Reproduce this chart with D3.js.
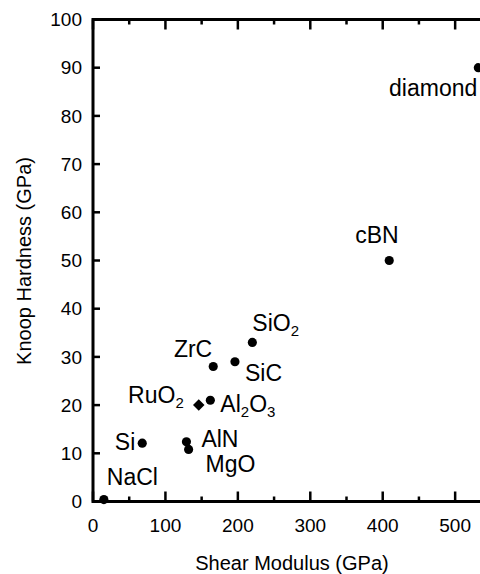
<!DOCTYPE html>
<html>
<head>
<meta charset="utf-8">
<script src="https://cdn.jsdelivr.net/npm/d3@7"></script>
<style>
  body { margin: 0; background: #fff; }
  svg { display: block; font-family: "Liberation Sans", Arial, sans-serif; }
</style>
</head>
<body>
<script>
// materials, shear modulus (GPa) and Knoop hardness (GPa)
const materials = ["NaCl", "Si", "RuO2", "Al2O3", "AlN", "MgO", "ZrC", "SiC", "SiO2", "cBN", "diamond"];
const shearModulus = [15, 68, 146, 162, 129, 132, 166, 196, 220, 409, 532];
const hardness = [0.4, 12.1, 20, 21, 12.4, 10.8, 28, 29, 33, 50, 90];
const markers = ["circle", "circle", "diamond", "circle", "circle", "circle", "circle", "circle", "circle", "circle", "circle"];

const xTicks = [0, 100, 200, 300, 400, 500];
const yTicks = [0, 10, 20, 30, 40, 50, 60, 70, 80, 90, 100];

// label placement, [dx, dy, anchor] from the point
const labelPlace = [
  [3, -15, "start"], [-7, 7, "end"], [-15, -2, "end"], [10, 12, "start"],
  [15, 5, "start"], [17, 23, "start"], [-1, -10, "end"], [10, 19, "start"],
  [0, -11, "start"], [-34, -18, "start"], [-1, 28, "end"]
];

const W = 480, H = 574;
const margin = {left: 93, top: 19.5};
const x = d3.scaleLinear().domain([0, 550]).range([margin.left, margin.left + 550 * 0.7243]);
const y = d3.scaleLinear().domain([0, 100]).range([501.5, margin.top]);

const svg = d3.select("body").append("svg").attr("width", W).attr("height", H);

// frame
const x0 = x(0), x1 = x(550), y0 = y(0), y1 = y(100);
svg.append("rect")
  .attr("x", x0).attr("y", y1).attr("width", x1 - x0).attr("height", y0 - y1)
  .attr("fill", "none").attr("stroke", "#000").attr("stroke-width", 3);

const minorX = d3.range(50, 551, 100);

// bottom + top ticks (inward)
const g = svg.append("g").attr("stroke", "#000").attr("stroke-width", 2.5);
xTicks.forEach(v => {
  g.append("line").attr("x1", x(v)).attr("x2", x(v)).attr("y1", y0).attr("y2", y0 - 10);
  g.append("line").attr("x1", x(v)).attr("x2", x(v)).attr("y1", y1).attr("y2", y1 + 10);
});
minorX.forEach(v => {
  g.append("line").attr("x1", x(v)).attr("x2", x(v)).attr("y1", y0).attr("y2", y0 - 5);
  g.append("line").attr("x1", x(v)).attr("x2", x(v)).attr("y1", y1).attr("y2", y1 + 5);
});
yTicks.forEach(v => {
  g.append("line").attr("x1", x0).attr("x2", x0 + 7).attr("y1", y(v)).attr("y2", y(v));
});

// tick labels
svg.append("g").selectAll("text").data(xTicks).join("text")
  .attr("x", d => x(d)).attr("y", 532)
  .attr("text-anchor", "middle").attr("font-size", 19)
  .text(d => d);

svg.append("g").selectAll("text").data(yTicks).join("text")
  .attr("x", 82).attr("y", d => y(d)).attr("dy", "0.35em")
  .attr("text-anchor", "end").attr("font-size", 19)
  .text(d => d);

// axis titles
svg.append("text")
  .attr("x", 292).attr("y", 570).attr("text-anchor", "middle").attr("font-size", 20)
  .text("Shear Modulus (GPa)");
svg.append("text")
  .attr("transform", `translate(31,261) rotate(-90)`)
  .attr("text-anchor", "middle").attr("font-size", 20)
  .text("Knoop Hardness (GPa)");

// points
const pts = materials.map((m, i) => ({name: m, g: shearModulus[i], h: hardness[i], mark: markers[i], lp: labelPlace[i]}));

svg.append("g").selectAll("path").data(pts).join("path")
  .attr("transform", d => `translate(${x(d.g)},${y(d.h)})`)
  .attr("d", d => d.mark === "diamond"
    ? d3.symbol(d3.symbolDiamond2, 85)()
    : d3.symbol(d3.symbolCircle, 66)())
  .attr("fill", "#000");

// labels with subscripts
const lab = svg.append("g").selectAll("text").data(pts).join("text")
  .attr("x", d => x(d.g) + d.lp[0])
  .attr("y", d => y(d.h) + d.lp[1])
  .attr("text-anchor", d => d.lp[2])
  .attr("font-size", 23);

lab.each(function(d) {
  const t = d3.select(this);
  const parts = d.name.match(/[A-Za-z]+|\d+/g);
  parts.forEach((p, k) => {
    if (/\d/.test(p)) {
      t.append("tspan").attr("font-size", 15).attr("dy", 5).text(p);
    } else {
      const s = t.append("tspan").text(p);
      if (k > 0) s.attr("dy", -5);
    }
  });
});
</script>
</body>
</html>
